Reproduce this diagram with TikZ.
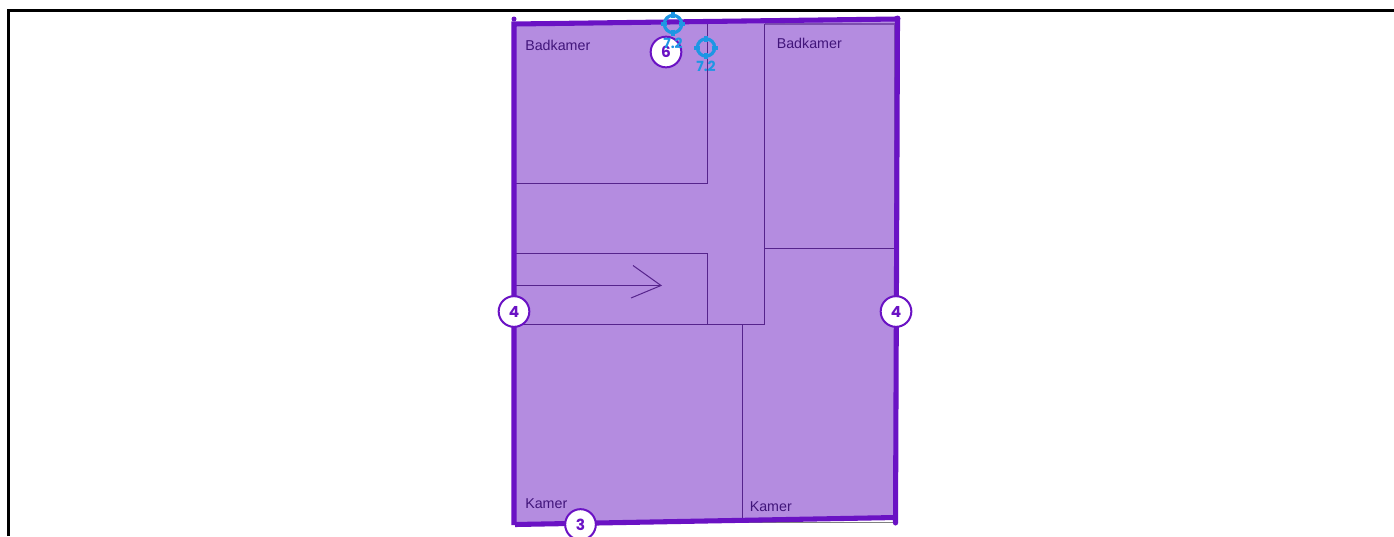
\documentclass[tikz,border=0pt]{standalone}
\usepackage{fontspec}
\setmainfont{Liberation Sans}
\newfontfamily\digitfont{Poppins}
\definecolor{roomfill}{HTML}{B48CE0}
\definecolor{outline}{HTML}{6A12C4}
\definecolor{wall}{HTML}{56248C}
\definecolor{labelc}{HTML}{41157A}
\definecolor{target}{HTML}{1E96E4}
\tikzset{
  wallline/.style={draw=wall,line width=0.75pt},
  outer/.style={draw=outline,line width=3.8pt},
  roomlabel/.style={anchor=west,text=labelc,inner sep=0pt,font=\fontsize{10.7pt}{12pt}\selectfont},
  badge/.style={circle,draw=outline,fill=white,line width=1.5pt,minimum size=23pt,inner sep=0pt,text=outline,font=\digitfont\fontsize{11.5pt}{14pt}\selectfont\bfseries},
  targetlabel/.style={text=target,inner sep=0pt,font=\digitfont\fontsize{10.5pt}{13pt}\selectfont\bfseries},
  targetring/.style={circle,draw=target,line width=2.4pt,minimum size=13pt,inner sep=0pt,outer sep=0pt},
  tick/.style={draw=target,line width=3pt}
}
\begin{document}
\begin{tikzpicture}[x=0.75pt,y=-0.75pt]
\useasboundingbox (0,0) rectangle (1394,536);
\fill[white] (0,0) rectangle (1394,536);
% frame
\draw[black,line width=2.4pt] (8.5,536) -- (8.5,10.5) -- (1394,10.5);
% rooms
\fill[roomfill] (514,24) -- (897,19) -- (897,518) -- (514,525) -- cycle;
% grey edge lines
\draw[gray,line width=1.4pt] (743,522.5) -- (897,522.5);
\draw[wall!60!roomfill,line width=1pt] (765,24) -- (895,24) -- (895,518);
% inner walls
\draw[wallline] (707,24) -- (707,183) -- (516,183);
\draw[wallline] (764.5,24) -- (764.5,324) -- (516,324);
\draw[wallline] (764.5,248) -- (895,248);
\draw[wallline] (516,253) -- (707,253) -- (707,324);
\draw[wallline] (742.5,324) -- (742.5,522);
% stair arrow
\draw[wallline] (516,285.5) -- (661,285.5);
\draw[wallline] (633,265.5) -- (661,285.5) -- (631,298);
% outer outline
\draw[outer] (514,525) -- (514,24) -- (897,19);
\draw[outer] (515,524.5) -- (896,517.5);
\draw[outer] (897.5,19) -- (895.5,523);
\fill[outline] (514,19) circle (2.5);
\fill[outline] (897.5,18.5) circle (3);
\fill[outline] (895.5,523) circle (2.5);
% room labels
\node[roomlabel] (bad1) at (525,45.5) {Badkamer};
\node[roomlabel] (bad2) at (776.5,43) {Badkamer};
\node[roomlabel] (kam1) at (525,503.5) {Kamer};
\node[roomlabel] (kam2) at (749.5,506.5) {Kamer};
% badges
\node[badge] (b6) at (666,52) {6};
\node[badge] (b4l) at (514,311.5) {4};
\node[badge] (b4r) at (896,311.5) {4};
\node[badge] (b3) at (580.5,524.5) {3};
% survey targets
\node[targetring] (t1) at (673,24) {};
\draw[tick] (t1.north) ++(0,-3) -- ++(0,6);
\draw[tick] (t1.south) ++(0,-3) -- ++(0,6);
\draw[tick] (t1.west) ++(-3,0) -- ++(6,0);
\draw[tick] (t1.east) ++(-3,0) -- ++(6,0);
\node[targetlabel] (l1) at (673,43) {7.2};
\node[targetring] (t2) at (706,47.5) {};
\draw[tick] (t2.north) ++(0,-3) -- ++(0,6);
\draw[tick] (t2.south) ++(0,-3) -- ++(0,6);
\draw[tick] (t2.west) ++(-3,0) -- ++(6,0);
\draw[tick] (t2.east) ++(-3,0) -- ++(6,0);
\node[targetlabel] (l2) at (706,66) {7.2};
\end{tikzpicture}
\end{document}
